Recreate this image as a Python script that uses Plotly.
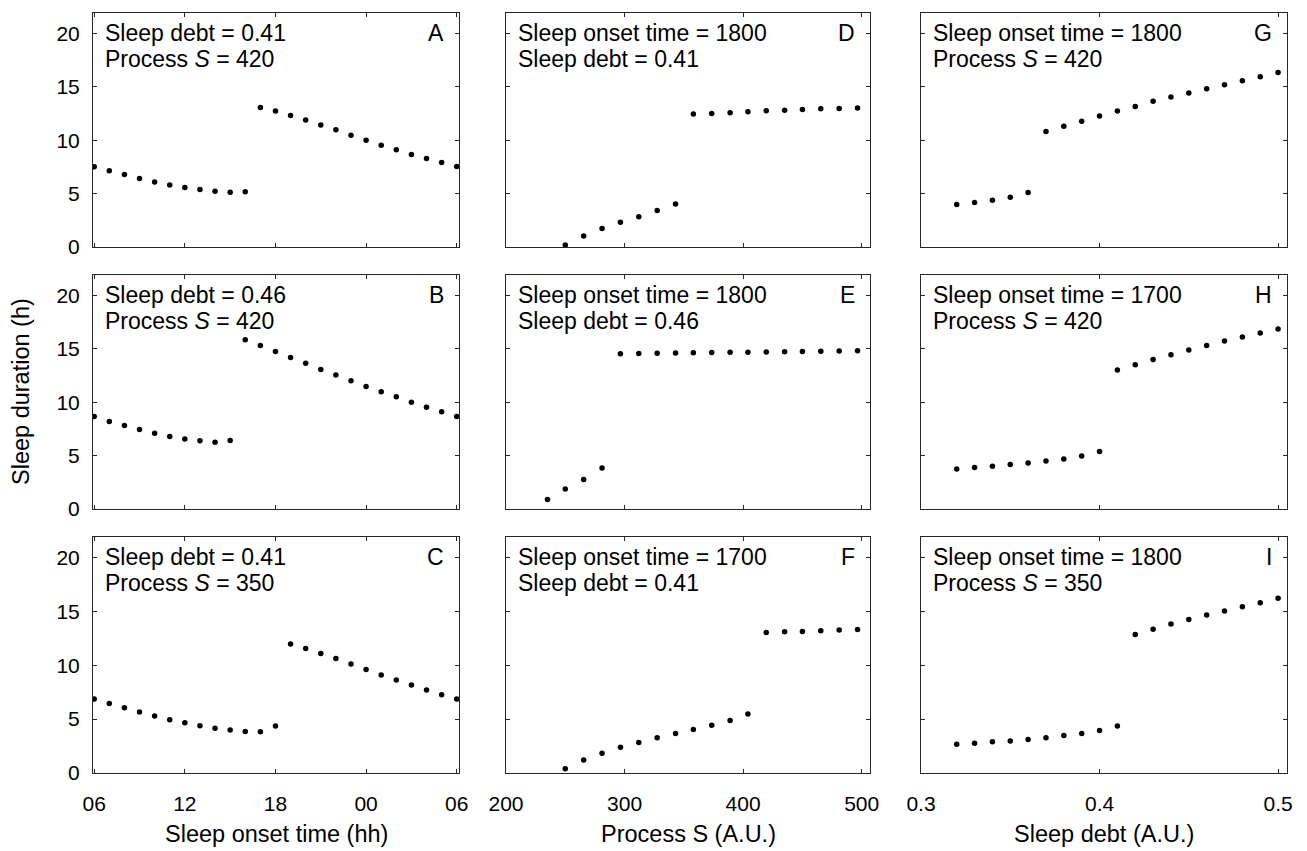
import plotly.graph_objects as go

# ---------------- data ----------------
onset_hours = [6, 7, 8, 9, 10, 11, 12, 13, 14, 15, 16, 17, 18, 19, 20, 21, 22, 23,
               24, 25, 26, 27, 28, 29, 30]
onset_tickvals = [6, 12, 18, 24, 30]
onset_ticktext = ["06", "12", "18", "00", "06"]

A_y = [7.50, 7.13, 6.78, 6.40, 6.09, 5.81, 5.56, 5.38, 5.22, 5.13, 5.16,
       13.06, 12.72, 12.31, 11.88, 11.41, 10.97, 10.47, 10.00, 9.53, 9.09, 8.66, 8.28, 7.91, 7.53]
B_y = [8.66, 8.19, 7.81, 7.44, 7.09, 6.78, 6.56, 6.38, 6.25, 6.41,
       15.84, 15.31, 14.75, 14.19, 13.63, 13.06, 12.53, 12.00, 11.47, 10.97, 10.50, 10.00, 9.53, 9.09, 8.66]
C_y = [6.86, 6.46, 6.06, 5.65, 5.28, 4.94, 4.66, 4.38, 4.16, 3.98, 3.85, 3.82, 4.35,
       11.96, 11.55, 11.09, 10.62, 10.12, 9.60, 9.10, 8.63, 8.17, 7.70, 7.27, 6.86]

processS_D = [250, 265.5, 281, 296.5, 312, 327.5, 343, 358, 373.5, 389, 404, 419.5,
              435, 450, 465.5, 481, 496.5]
processS_E = [235, 250, 265.5, 281, 296.5, 312, 327.5, 343, 358, 373.5, 389, 404, 419.5,
              435, 450, 465.5, 481, 496.5]
processS_F = [250, 265.5, 281, 296.5, 312, 327.5, 343, 358, 373.5, 389, 404, 419.5,
              435, 450, 465.5, 481, 496.5]
processS_tickvals = [200, 300, 400, 500]

D_y = [0.19, 1.03, 1.72, 2.31, 2.84, 3.41, 4.03,
       12.44, 12.50, 12.56, 12.66, 12.75, 12.81, 12.88, 12.94, 12.97, 13.00]
E_y = [0.88, 1.88, 2.75, 3.84,
       14.53, 14.56, 14.58, 14.60, 14.62, 14.64, 14.66, 14.68, 14.70, 14.72, 14.74, 14.76, 14.78, 14.82]
F_y = [0.40, 1.21, 1.83, 2.39, 2.83, 3.26, 3.66, 4.04, 4.44, 4.88, 5.47,
       13.04, 13.11, 13.14, 13.20, 13.26, 13.32]

sleep_debt = [0.32, 0.33, 0.34, 0.35, 0.36, 0.37, 0.38, 0.39, 0.40, 0.41,
              0.42, 0.43, 0.44, 0.45, 0.46, 0.47, 0.48, 0.49, 0.50]
debt_tickvals = [0.3, 0.4, 0.5]
debt_ticktext = ["0.3", "0.4", "0.5"]

G_y = [3.97, 4.16, 4.38, 4.66, 5.09,
       10.81, 11.31, 11.78, 12.25, 12.72, 13.16, 13.63, 14.03, 14.41, 14.81, 15.19, 15.56, 15.94, 16.34]
H_y = [3.75, 3.88, 4.00, 4.16, 4.31, 4.50, 4.69, 4.97, 5.38,
       13.00, 13.50, 14.00, 14.44, 14.88, 15.31, 15.72, 16.09, 16.47, 16.84]
I_y = [2.67, 2.76, 2.89, 2.98, 3.11, 3.26, 3.48, 3.66, 3.94, 4.35,
       12.86, 13.35, 13.82, 14.25, 14.66, 15.03, 15.43, 15.81, 16.21]

y_tickvals = [0, 5, 10, 15, 20]

panel_letters = ["A", "B", "C", "D", "E", "F", "G", "H", "I"]
panel_line1 = ["Sleep debt = 0.41", "Sleep debt = 0.46", "Sleep debt = 0.41",
               "Sleep onset time = 1800", "Sleep onset time = 1800", "Sleep onset time = 1700",
               "Sleep onset time = 1800", "Sleep onset time = 1700", "Sleep onset time = 1800"]
panel_line2 = ["Process <i>S</i> = 420", "Process <i>S</i> = 420", "Process <i>S</i> = 350",
               "Sleep debt = 0.41", "Sleep debt = 0.46", "Sleep debt = 0.41",
               "Process <i>S</i> = 420", "Process <i>S</i> = 420", "Process <i>S</i> = 350"]
x_titles = ["Sleep onset time (hh)", "Process S (A.U.)", "Sleep debt (A.U.)"]
y_title = "Sleep duration (h)"

# ---------------- layout ----------------
PAGE_W, PAGE_H = 1307, 851
OFF = 8                      # default page margin around the plot div
W, H = PAGE_W - OFF, PAGE_H - OFF
FONT = "Liberation Sans, Arial, sans-serif"
AXC = "#262626"
cols_px = [(93, 459), (506, 870), (921, 1287)]   # page pixels
rows_px = [(13, 247), (275, 509), (537, 773)]

col_ranges = [[5.92, 30.15], [200, 507], [0.3, 0.505]]
col_ticks = [(onset_tickvals, onset_ticktext),
             (processS_tickvals, [str(v) for v in processS_tickvals]),
             (debt_tickvals, debt_ticktext)]
panel_xs = [onset_hours, onset_hours, onset_hours,
            processS_D, processS_E, processS_F,
            sleep_debt, sleep_debt, sleep_debt]
panel_ys = [A_y, B_y, C_y, D_y, E_y, F_y, G_y, H_y, I_y]


def px_x(p):
    return (p - OFF) / W


def px_y(p):
    return 1 - (p - OFF) / H


fig = go.Figure()
annotations = []
layout_axes = {}

for c in range(3):
    for r in range(3):
        p = c * 3 + r           # panel index (A,B,C down first column)
        k = r * 3 + c + 1       # axis number
        xn = "x" if k == 1 else f"x{k}"
        yn = "y" if k == 1 else f"y{k}"
        fig.add_trace(go.Scatter(
            x=panel_xs[p], y=panel_ys[p], mode="markers",
            marker=dict(color="black", size=5.5),
            xaxis=xn, yaxis=yn, showlegend=False, hoverinfo="x+y"))
        x0, x1 = cols_px[c]
        y0, y1 = rows_px[r]
        tv, tt = col_ticks[c]
        layout_axes["xaxis" if k == 1 else f"xaxis{k}"] = dict(
            domain=[px_x(x0), px_x(x1)], anchor=yn, range=col_ranges[c],
            tickvals=tv, ticktext=tt, showticklabels=(r == 2),
            ticks="inside", ticklen=4, tickcolor=AXC, tickwidth=1,
            showline=True, linecolor=AXC, linewidth=1, mirror="ticks",
            showgrid=False, zeroline=False, ticklabelstandoff=12, automargin=False,
            tickfont=dict(family=FONT, size=21, color="black"))
        layout_axes["yaxis" if k == 1 else f"yaxis{k}"] = dict(
            domain=[px_y(y1), px_y(y0)], anchor=xn, range=[0, 21.9],
            tickvals=y_tickvals, showticklabels=(c == 0),
            ticks="inside", ticklen=4, tickcolor=AXC, tickwidth=1,
            showline=True, linecolor=AXC, linewidth=1, mirror="ticks",
            showgrid=False, zeroline=False, ticklabelstandoff=8, automargin=False,
            tickfont=dict(family=FONT, size=21, color="black"))
        # panel texts
        annotations.append(dict(
            xref="paper", yref="paper", x=px_x(x0 + 10), y=px_y(y0 + 20),
            xanchor="left", yanchor="middle", showarrow=False,
            text=panel_line1[p], font=dict(family=FONT, size=23, color="black")))
        annotations.append(dict(
            xref="paper", yref="paper", x=px_x(x0 + 10), y=px_y(y0 + 46),
            xanchor="left", yanchor="middle", showarrow=False,
            text=panel_line2[p], font=dict(family=FONT, size=23, color="black")))
        annotations.append(dict(
            xref="paper", yref="paper", x=px_x(x1 - 13), y=px_y(y0 + 20),
            xanchor="right", yanchor="middle", showarrow=False,
            text=panel_letters[p], font=dict(family=FONT, size=23, color="black")))

for c in range(3):
    x0, x1 = cols_px[c]
    annotations.append(dict(
        xref="paper", yref="paper", x=px_x((x0 + x1) / 2), y=px_y(834),
        xanchor="center", yanchor="middle", showarrow=False,
        text=x_titles[c], font=dict(family=FONT, size=23.5, color="black")))

annotations.append(dict(
    xref="paper", yref="paper", x=px_x(21), y=px_y(392),
    xanchor="center", yanchor="middle", showarrow=False, textangle=-90,
    text=y_title, font=dict(family=FONT, size=23.5, color="black")))

fig.update_layout(
    template="none",
    width=W, height=H, margin=dict(l=0, r=0, t=0, b=0, autoexpand=False),
    paper_bgcolor="white", plot_bgcolor="white",
    annotations=annotations, **layout_axes)

fig.write_html("out.html")
